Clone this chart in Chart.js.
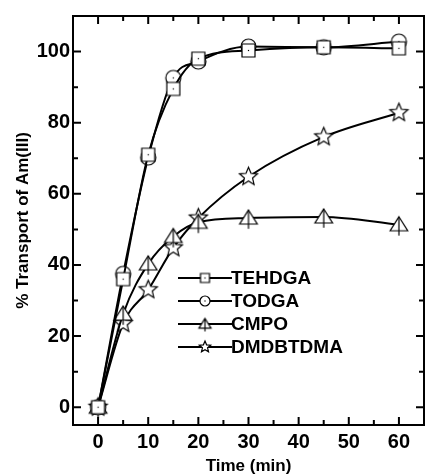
<!DOCTYPE html>
<html>
<head>
<meta charset="utf-8">
<script src="https://cdn.jsdelivr.net/npm/chart.js@4.4.1/dist/chart.umd.min.js"></script>
<style>
  html, body { margin: 0; padding: 0; background: #fff; }
</style>
</head>
<body>
<canvas id="chart" width="430" height="475"></canvas>
<script>
// data
const times = [0, 5, 10, 15, 20, 30, 45, 60];
const tehdga = [0, 36, 71, 89.5, 98, 100.3, 101.2, 100.9];
const todga = [0, 37.5, 70.2, 92.6, 97.2, 101.4, 101.2, 102.8];
const cmpo = [0, 26.2, 40.3, 48, 52, 53.2, 53.5, 51.3];
const dmdbtdma = [0, 23.5, 33, 44.8, 53.2, 64.8, 76, 82.8];
const seriesNames = ['TEHDGA', 'TODGA', 'CMPO', 'DMDBTDMA'];
const xTicks = [0, 10, 20, 30, 40, 50, 60];
const yTicks = [0, 20, 40, 60, 80, 100];

const FONT = "'Liberation Sans', Arial, sans-serif";

const makeMarker = (kind, r) => { // hollow origin-style symbols drawn on a small canvas
  const size = Math.ceil(2 * r + 8);
  const c = document.createElement('canvas');
  c.width = size; c.height = size;
  const g = c.getContext('2d');
  const m = size / 2;
  g.lineWidth = 1.2;
  g.strokeStyle = '#000';
  g.fillStyle = '#fff';
  g.beginPath();
  if (kind === 'square') {
    g.rect(m - r, m - r, 2 * r, 2 * r);
  } else if (kind === 'circle') {
    g.arc(m, m, r, 0, Math.PI * 2);
  } else if (kind === 'triangle') {
    g.moveTo(m, m - r);
    g.lineTo(m + r * 1.1, m + r * 0.75);
    g.lineTo(m - r * 1.1, m + r * 0.75);
    g.closePath();
  } else {
    for (let i = 0; i < 10; i++) {
      const a = -Math.PI / 2 + i * Math.PI / 5;
      const rr = i % 2 ? r * 0.45 : r;
      g.lineTo(m + rr * Math.cos(a), m + rr * Math.sin(a));
    }
    g.closePath();
  }
  g.fill();
  g.stroke();
  if (kind === 'square' || kind === 'circle') { // center dot
    g.fillStyle = '#000';
    g.fillRect(m - 0.6, m - 0.6, 1.2, 1.2);
  }
  if (kind === 'triangle') { // vertical stroke through the triangle
    g.beginPath();
    g.moveTo(m, m - r);
    g.lineTo(m, m + r * 1.35);
    g.stroke();
  }
  return c;
};

const kinds = ['square', 'circle', 'triangle', 'star'];
const plotRadius = [6.5, 7.5, 8, 9.5];
const legendRadius = [4.5, 5, 5.5, 6];
const plotMarkers = kinds.map((k, i) => makeMarker(k, plotRadius[i]));
const legendMarkers = kinds.map((k, i) => makeMarker(k, legendRadius[i]));

const toPoints = (ys) => times.map((t, i) => ({ x: t, y: ys[i] }));

const frameAndTicks = { // inward ticks on all four sides plus the box
  id: 'frameAndTicks',
  afterDatasetsDraw(chart) {
    const { ctx, chartArea: a, scales } = chart;
    const xs = scales.x, ys = scales.y;
    ctx.save();
    ctx.strokeStyle = '#000';
    ctx.lineWidth = 2;
    ctx.beginPath();
    for (let v = 0; v <= 60; v += 5) {
      const len = v % 10 === 0 ? 8 : 5;
      const px = xs.getPixelForValue(v);
      ctx.moveTo(px, a.bottom); ctx.lineTo(px, a.bottom - len);
      ctx.moveTo(px, a.top); ctx.lineTo(px, a.top + len);
    }
    for (let v = 0; v <= 100; v += 10) {
      const len = v % 20 === 0 ? 8 : 5;
      const py = ys.getPixelForValue(v);
      ctx.moveTo(a.left, py); ctx.lineTo(a.left + len, py);
      ctx.moveTo(a.right, py); ctx.lineTo(a.right - len, py);
    }
    ctx.stroke();
    ctx.strokeRect(a.left, a.top, a.right - a.left, a.bottom - a.top);
    ctx.restore();
  }
};

const insideLegend = { // legend drawn inside the plot like the original
  id: 'insideLegend',
  afterDraw(chart) {
    const ctx = chart.ctx;
    ctx.save();
    ctx.font = 'bold 19px ' + FONT;
    ctx.textBaseline = 'middle';
    ctx.fillStyle = '#000';
    chart.data.datasets.forEach((ds, i) => {
      const y = 278 + i * 23;
      ctx.strokeStyle = '#000';
      ctx.lineWidth = 2;
      ctx.beginPath();
      ctx.moveTo(178, y); ctx.lineTo(232, y);
      ctx.stroke();
      const mk = legendMarkers[i];
      ctx.drawImage(mk, 205 - mk.width / 2, y - mk.height / 2);
      ctx.fillText(ds.label, 231, y + 1);
    });
    ctx.restore();
  }
};

const ctx = document.getElementById('chart').getContext('2d');
const seriesValues = [tehdga, todga, cmpo, dmdbtdma];

new Chart(ctx, {
  type: 'line',
  data: {
    datasets: seriesValues.map((vals, i) => ({
      label: seriesNames[i],
      data: toPoints(vals),
      borderColor: '#000',
      borderWidth: 2,
      pointStyle: plotMarkers[i],
      cubicInterpolationMode: 'monotone',
      fill: false,
    })),
  },
  options: {
    responsive: false,
    animation: false,
    devicePixelRatio: 1,
    events: [],
    layout: { padding: { top: 16, right: 1, left: 0, bottom: 0 } },
    plugins: {
      legend: { display: false },
      tooltip: { enabled: false },
    },
    scales: {
      x: {
        type: 'linear',
        min: -5,
        max: 65,
        afterBuildTicks: (s) => { s.ticks = xTicks.map(v => ({ value: v })); },
        afterFit: (s) => { s.height = 50; },
        grid: { display: false, drawTicks: false },
        border: { display: false },
        ticks: { color: '#000', padding: 5, maxRotation: 0, font: { family: FONT, size: 20, weight: 'bold' } },
        title: { display: true, text: 'Time (min)', color: '#000', padding: 0, font: { family: FONT, size: 17, weight: 'bold', lineHeight: 1 } },
      },
      y: {
        min: -5,
        max: 110,
        afterBuildTicks: (s) => { s.ticks = yTicks.map(v => ({ value: v })); },
        afterFit: (s) => { s.width = 73; },
        grid: { display: false, drawTicks: false },
        border: { display: false },
        ticks: { color: '#000', padding: 3, font: { family: FONT, size: 20, weight: 'bold' } },
        title: { display: true, text: '% Transport of Am(III)', color: '#000', padding: { top: 14.5 }, font: { family: FONT, size: 17, weight: 'bold', lineHeight: 1 } },
      },
    },
  },
  plugins: [frameAndTicks, insideLegend],
});
</script>
</body>
</html>
